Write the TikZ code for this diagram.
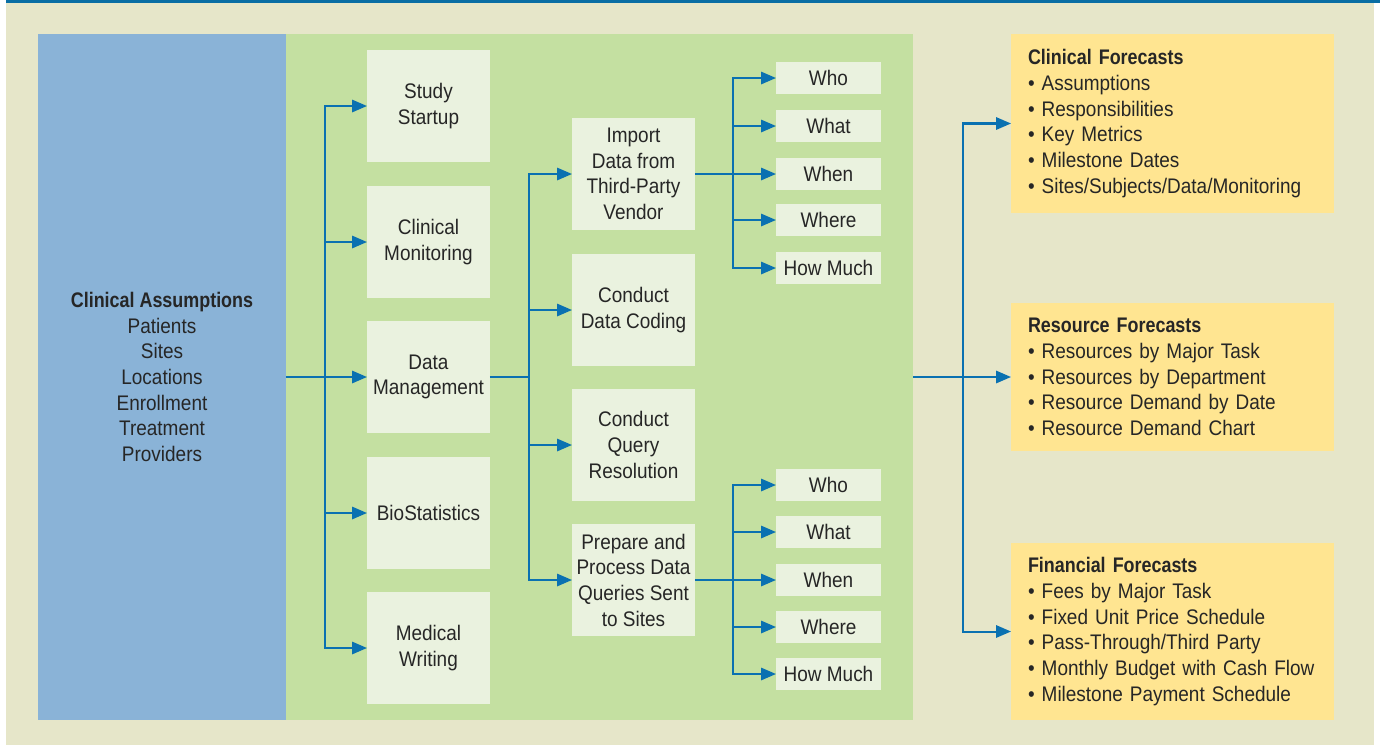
\documentclass[tikz,border=0pt]{standalone}
\usepackage{fontspec}
\setmainfont{Liberation Sans}[FakeStretch=0.9, BoldFeatures={FakeStretch=0.85}]
\usetikzlibrary{positioning,calc,arrows.meta}
\definecolor{pagebeige}{HTML}{E6E6C9}
\definecolor{rulebl}{HTML}{0A6EA4}
\definecolor{panelblue}{HTML}{8AB3D7}
\definecolor{panelgreen}{HTML}{C4E0A1}
\definecolor{boxgreen}{HTML}{EAF2DF}
\definecolor{fcyellow}{HTML}{FFE591}
\definecolor{flowblue}{HTML}{0A71B1}
\definecolor{inkgray}{HTML}{262626}
\tikzset{
    plan/.style={
        x=0.02cm, y=-0.02cm,
        font=\fontsize{12}{14.6}\selectfont,
        text=inkgray,
        % Stile per pannelli di fondo
        panel/.style={rectangle, outer sep=0pt, inner sep=0pt,
                      align=center, minimum height=13.72cm},
        % Stile per le attivita
        taskbox/.style={rectangle, fill=boxgreen, align=center,
                        minimum width=2.46cm, minimum height=2.24cm,
                        inner sep=2pt, outer sep=0pt},
        % Stile per le domande
        askbox/.style={rectangle, fill=boxgreen, align=center,
                       minimum width=2.1cm, minimum height=0.64cm,
                       inner sep=1pt, outer sep=0pt},
        % Stile per le previsioni
        forecast/.style={rectangle, fill=fcyellow, align=left,
                         text width=5.78cm, inner xsep=0.34cm,
                         inner ysep=0pt, outer sep=0pt},
        % Collegamenti
        link/.style={draw=flowblue, line width=1.15pt},
        flow/.style={link, -{Triangle[length=8.5pt,width=7pt]}}
    }
}

\begin{document}
\begin{tikzpicture}[plan]
  \useasboundingbox (0,0) rectangle (1380,745);
  \fill[pagebeige] (6,2) rectangle (1374,745);
  \fill[rulebl] (6,0) rectangle (1380,2.5);

  % Pannelli
  \node[panel, fill=panelblue, minimum width=4.96cm] (assume) at (162,377)
    {\textbf{Clinical Assumptions}\\Patients\\Sites\\Locations\\Enrollment\\Treatment\\Providers};
  \node[panel, fill=panelgreen, minimum width=12.54cm] (work) at (599.5,377) {};

  % Attivita
  \node[taskbox] (ss) at (428.5,106) {Study\\Startup};
  \node[taskbox] (cm) at (428.5,242) {Clinical\\Monitoring};
  \node[taskbox] (dm) at (428.5,377) {Data\\Management};
  \node[taskbox] (bs) at (428.5,513) {BioStatistics};
  \node[taskbox] (mw) at (428.5,648) {Medical\\Writing};

  \node[taskbox] (imp) at (633.5,174) {Import\\Data from\\Third-Party\\Vendor};
  \node[taskbox] (cdc) at (633.5,310) {Conduct\\Data Coding};
  \node[taskbox] (cqr) at (633.5,445) {Conduct\\Query\\Resolution};
  \node[taskbox] (pdq) at (633.5,580) {Prepare and\\Process Data\\Queries Sent\\to Sites};

  % Domande
  \foreach \q/\y [count=\i] in {Who/78, What/126, When/174, Where/220, How Much/268}
    \node[askbox] (qa\i) at (828.5,\y) {\q};
  \foreach \q/\y [count=\i] in {Who/485, What/532, When/580, Where/627, How Much/674}
    \node[askbox] (qb\i) at (828.5,\y) {\q};

  % Previsioni
  \node[forecast, minimum height=3.58cm] (cf) at (1172.5,123.5)
    {\textbf{Clinical Forecasts}\\\textbullet\ Assumptions\\\textbullet\ Responsibilities\\\textbullet\ Key Metrics\\\textbullet\ Milestone Dates\\\textbullet\ Sites/Subjects/Data/Monitoring};
  \node[forecast, minimum height=2.96cm] (rf) at (1172.5,377)
    {\textbf{Resource Forecasts}\\\textbullet\ Resources by Major Task\\\textbullet\ Resources by Department\\\textbullet\ Resource Demand by Date\\\textbullet\ Resource Demand Chart};
  \node[forecast, minimum height=3.54cm] (ff) at (1172.5,631.5)
    {\textbf{Financial Forecasts}\\\textbullet\ Fees by Major Task\\\textbullet\ Fixed Unit Price Schedule\\\textbullet\ Pass-Through/Third Party\\\textbullet\ Monthly Budget with Cash Flow\\\textbullet\ Milestone Payment Schedule};

  % Diramazioni
  \coordinate (b1) at (325,377);
  \coordinate (b2) at (529,377);
  \coordinate (b3) at (733,174);
  \coordinate (b4) at (733,580);
  \coordinate (b5) at (963,377);

  \draw[flow] (assume.east) -- (dm.west);
  \foreach \n in {ss,cm,bs,mw}
    \draw[flow] (b1) |- (\n.west);

  \draw[link] (dm.east) -- (b2);
  \foreach \n in {imp,cdc,cqr,pdq}
    \draw[flow] (b2) |- (\n.west);

  \draw[flow] (imp.east) -- (qa3.west);
  \foreach \i in {1,2,4,5}
    \draw[flow] (b3) |- (qa\i.west);

  \draw[flow] (pdq.east) -- (qb3.west);
  \foreach \i in {1,2,4,5}
    \draw[flow] (b4) |- (qb\i.west);

  \draw[flow] (work.east) -- (rf.west);
  \draw[flow] (b5) |- (cf.west);
  \draw[flow] (b5) |- (ff.west);
\end{tikzpicture}
\end{document}
